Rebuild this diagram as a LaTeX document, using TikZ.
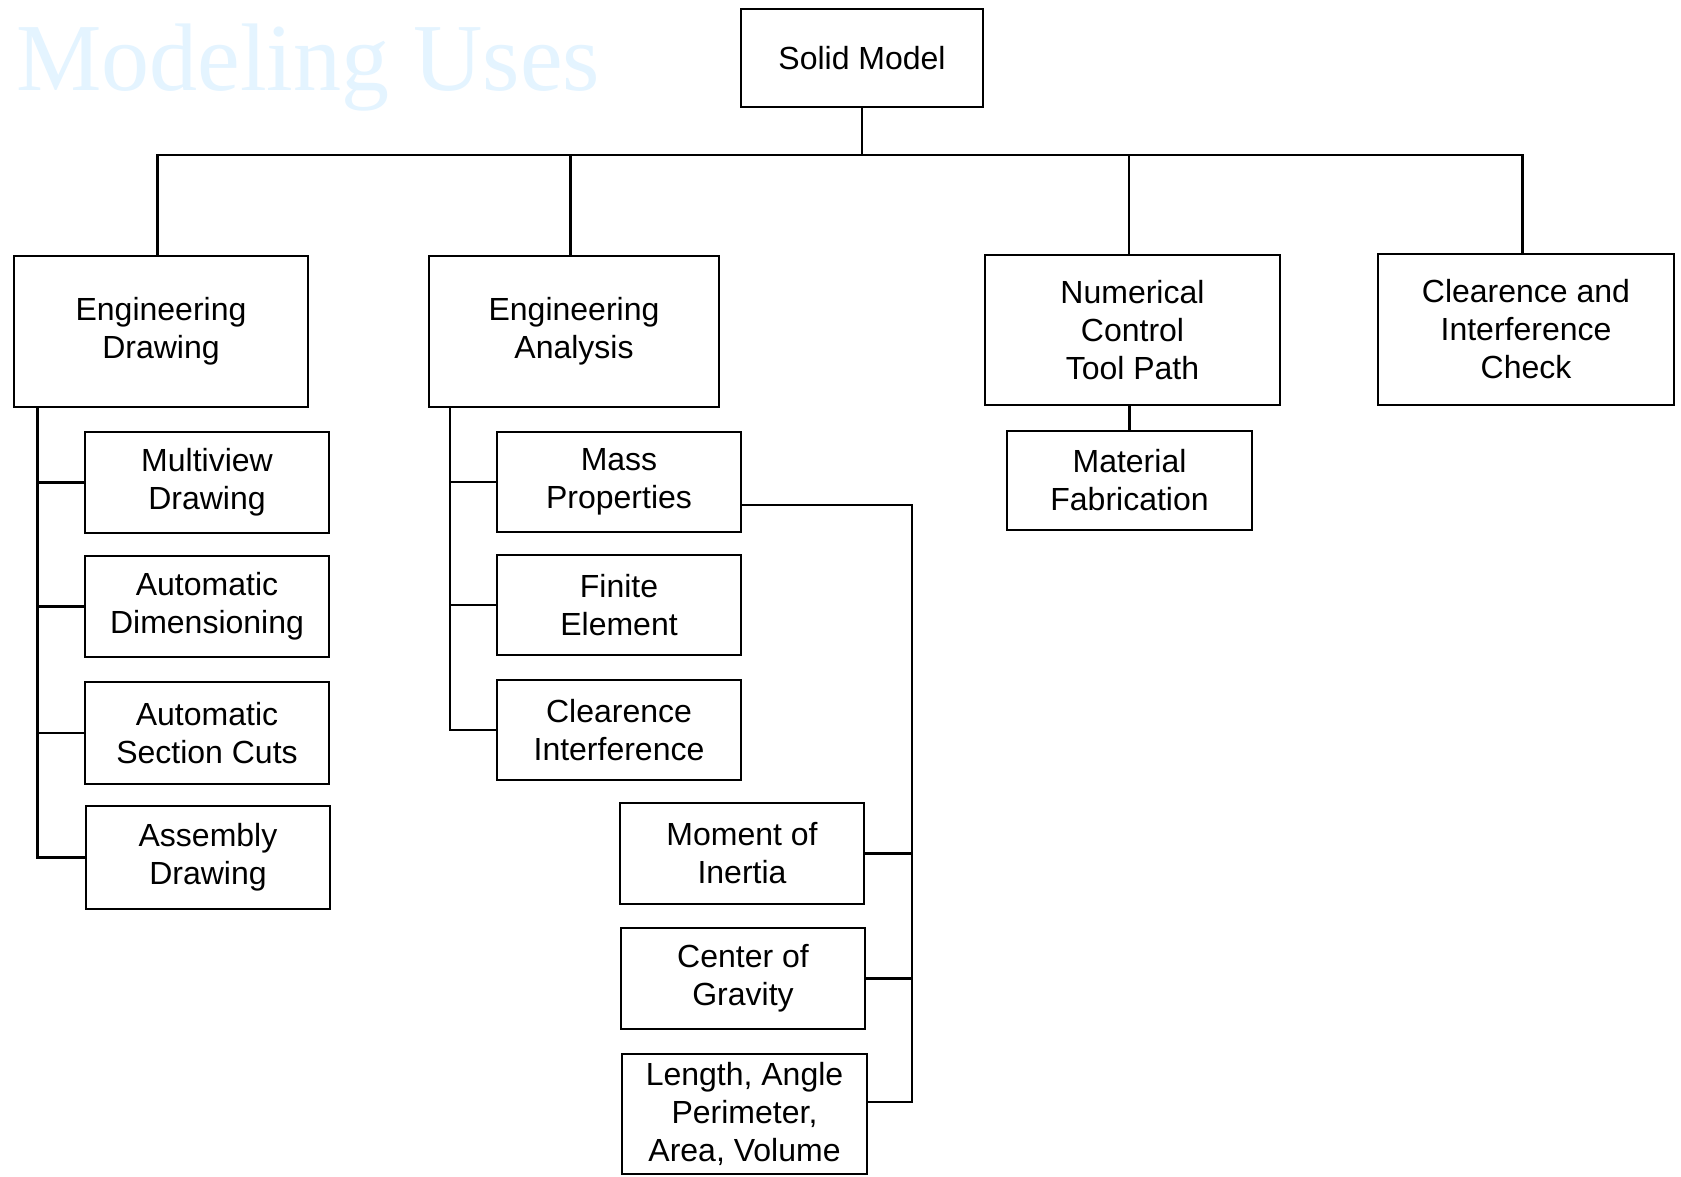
\documentclass[tikz,border=0pt]{standalone}
\usepackage{fontspec}
\setmainfont{Liberation Sans}
\newfontfamily\titlefont{Liberation Serif}
\usetikzlibrary{calc}
\definecolor{wmblue}{RGB}{228,244,255}
\newcommand{\labfont}{\fontsize{32}{38}\selectfont}
\tikzset{
  box/.style={draw, line width=2.8pt, inner sep=0pt, align=center,
    font=\labfont, minimum width=#1},
  box/.default=244pt,
  link/.style={line width=2.8pt},
}
\begin{document}
\begin{tikzpicture}[x=1pt, y=-1pt]
\useasboundingbox[fill=white] (0,0) rectangle (1681,1176);

% faint title
\node[anchor=base west, inner sep=0pt, text=wmblue,
      font=\titlefont\fontsize{96}{100}\selectfont] (title) at (16,90) {Modeling Uses};

% root
\node[box=242pt, minimum height=98pt] (sm) at (862,58) {Solid Model};

% first level
\node[box=294pt, minimum height=151pt] (ed) at (161,331.5) {Engineering\\Drawing};
\node[box=290pt, minimum height=151pt] (ea) at (574,331.5) {Engineering\\Analysis};
\node[box=295pt, minimum height=150pt] (nc) at (1132.5,330) {Numerical\\Control\\Tool Path};
\node[box=296pt, minimum height=151pt] (ci) at (1526,329.5) {Clearence and\\Interference\\Check};

% engineering drawing branch
\node[box, minimum height=101pt] (mv) at (207,482.5) {Multiview\\Drawing};
\node[box, minimum height=101pt] (ad) at (207,606.5) {Automatic\\Dimensioning};
\node[box, minimum height=102pt] (sc) at (207,733) {Automatic\\Section Cuts};
\node[box, minimum height=103pt] (as) at (208,857.5) {Assembly\\Drawing};

% engineering analysis branch
\node[box, minimum height=100pt] (mp) at (619,482) {Mass\\Properties};
\node[box, minimum height=100pt] (fe) at (619,605) {Finite\\Element};
\node[box, minimum height=100pt] (cl) at (619,730) {Clearence\\Interference};

% mass properties branch
\node[box, minimum height=101pt] (mi) at (742,853.5) {Moment of\\Inertia};
\node[box, minimum height=101pt] (cg) at (743,978.5) {Center of\\Gravity};
\node[box=245pt, minimum height=120pt] (la) at (744.5,1114) {Length, Angle\\Perimeter,\\Area, Volume};

% numerical control branch
\node[box=245pt, minimum height=99pt] (mf) at (1129.5,480.5) {Material\\Fabrication};

% root bus; the drops sit a little left of each box centre
\coordinate (bus) at (862,155);
\coordinate (edin) at ($(ed.north)+(-3.5,0)$);
\coordinate (eain) at ($(ea.north)+(-3.5,0)$);
\coordinate (ncin) at ($(nc.north)+(-3.5,0)$);
\coordinate (ciin) at ($(ci.north)+(-3.5,0)$);
\draw[link] (sm.south) -- (sm.south |- bus);
\draw[link] (edin) -- (edin |- bus) -- (ciin |- bus) -- (ciin);
\draw[link] (eain) -- (eain |- bus);
\draw[link] (ncin) -- (ncin |- bus);

% engineering drawing spine
\coordinate (edsp) at (37.5,407);
\draw[link] (edsp) |- (as.west);
\draw[link] (edsp |- mv.west) -- (mv.west);
\draw[link] (edsp |- ad.west) -- (ad.west);
\draw[link] (edsp |- sc.west) -- (sc.west);

% engineering analysis spine
\coordinate (easp) at (450,407);
\draw[link] (easp) |- (cl.west);
\draw[link] (easp |- mp.west) -- (mp.west);
\draw[link] (easp |- fe.west) -- (fe.west);

% mass properties rail
\coordinate (mpout) at ($(mp.east)+(0,23)$);
\coordinate (railtop) at (912,505);
\coordinate (railbot) at (912,1102);
\draw[link] (mpout) -- (railtop) -- (railbot) -- (railbot -| la.east);
\draw[link] (mi.east) -- (mi.east -| railtop);
\draw[link] (cg.east) -- (cg.east -| railtop);

% numerical control to fabrication
\draw[link] (mf.north) -- (mf.north |- nc.south);
\end{tikzpicture}
\end{document}
